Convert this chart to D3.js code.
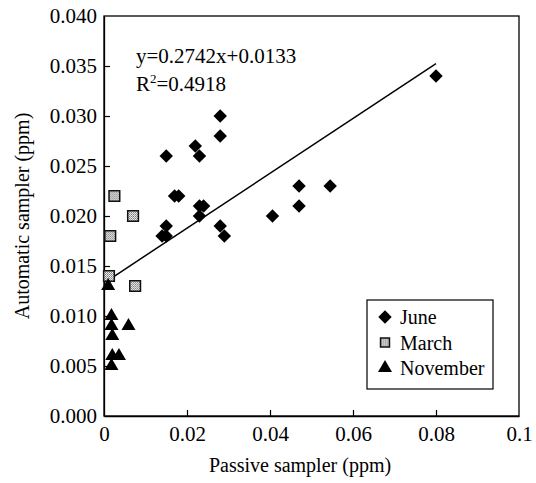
<!DOCTYPE html>
<html>
<head>
<meta charset="utf-8">
<script src="https://cdn.jsdelivr.net/npm/d3@7/dist/d3.min.js"></script>
<style>
  body { margin: 0; background: #fff; }
  text { font-family: "Liberation Serif", "Times New Roman", serif; fill: #000; }
</style>
</head>
<body>
<div id="chart"></div>
<script>
// data (passive, automatic) in ppm
var juneX = [0.080, 0.028, 0.028, 0.022, 0.015, 0.023, 0.017, 0.018, 0.023, 0.024, 0.023, 0.015, 0.014, 0.015, 0.028, 0.029, 0.0406, 0.047, 0.047, 0.0545]
var juneY = [0.034, 0.030, 0.028, 0.027, 0.026, 0.026, 0.022, 0.022, 0.021, 0.021, 0.020, 0.019, 0.018, 0.018, 0.019, 0.018, 0.020, 0.023, 0.021, 0.023]
var marchX = [0.0025, 0.007, 0.0015, 0.0012, 0.0075]
var marchY = [0.022, 0.020, 0.018, 0.014, 0.013]
var novX = [0.001, 0.0018, 0.0018, 0.0059, 0.002, 0.002, 0.0036, 0.0018]
var novY = [0.013, 0.010, 0.009, 0.009, 0.008, 0.006, 0.006, 0.005]
var slope = 0.2742, intercept = 0.0133
var xTicks = [0, 0.02, 0.04, 0.06, 0.08, 0.1]
var yTicks = [0, 0.005, 0.010, 0.015, 0.020, 0.025, 0.030, 0.035, 0.040]
var seriesNames = ["June", "March", "November"]

var W = 536, H = 483
var margin = {top: 16, right: 17, bottom: 67, left: 104}
var width = W - margin.left - margin.right,
    height = H - margin.top - margin.bottom

var svg = d3.select("#chart").append("svg")
  .attr("width", W).attr("height", H)

// stipple for the March squares
var defs = svg.append("defs")
var pat = defs.append("pattern").attr("id", "stip")
  .attr("width", 2).attr("height", 2).attr("patternUnits", "userSpaceOnUse")
pat.append("rect").attr("width", 2).attr("height", 2).attr("fill", "#eee")
pat.append("rect").attr("width", 1).attr("height", 1).attr("fill", "#777")
pat.append("rect").attr("x", 1).attr("y", 1).attr("width", 1).attr("height", 1).attr("fill", "#999")

var g = svg.append("g").attr("transform", "translate(" + margin.left + "," + margin.top + ")")

var x = d3.scaleLinear().domain([0, 0.1]).range([0, width])
var y = d3.scaleLinear().domain([0, 0.04]).range([height, 0])

// frame
g.append("rect").attr("width", width).attr("height", height)
  .attr("fill", "none").attr("stroke", "#000").attr("stroke-width", 1.3)

var xAxis = g.append("g").attr("transform", "translate(0," + height + ")")
  .call(d3.axisBottom(x).tickValues(xTicks).tickSizeInner(-6).tickSizeOuter(0).tickPadding(10)
    .tickFormat(function(d){ return d === 0 ? "0" : (d === 0.1 ? "0.1" : d3.format(".2f")(d)) }))
var yAxis = g.append("g")
  .call(d3.axisLeft(y).tickValues(yTicks).tickSizeInner(-6).tickSizeOuter(0).tickPadding(7)
    .tickFormat(d3.format(".3f")))
;[xAxis, yAxis].forEach(function(a){
  a.select(".domain").attr("stroke", "#000").attr("stroke-width", 1.3)
  a.selectAll(".tick line").attr("stroke", "#000").attr("stroke-width", 1.2)
  a.selectAll(".tick text").style("font-size", "21px").style("font-family", "Liberation Serif")
})
xAxis.selectAll(".tick").filter(function(d){ return d === 0 || d === 0.1 }).select("line").remove()
yAxis.selectAll(".tick").filter(function(d){ return d === 0 || d === 0.04 }).select("line").remove()

// regression line
var allX = juneX.concat(marchX, novX)
var x0 = d3.min(allX), x1 = d3.max(allX)
g.append("line")
  .attr("x1", x(x0)).attr("y1", y(slope * x0 + intercept))
  .attr("x2", x(x1)).attr("y2", y(slope * x1 + intercept))
  .attr("stroke", "#000").attr("stroke-width", 1.5)

var diamond = d3.symbol().type(d3.symbolSquare).size(90)
var square = d3.symbol().type(d3.symbolSquare).size(115)
var tri = d3.symbol().type(d3.symbolTriangle).size(85)

function drawPts(xs, ys, gen, rot, fill, stroke) {
  g.append("g").selectAll("path").data(xs).enter().append("path")
    .attr("d", gen)
    .attr("transform", function(d, i){ return "translate(" + x(d) + "," + y(ys[i]) + ") rotate(" + rot + ")" })
    .attr("fill", fill).attr("stroke", stroke).attr("stroke-width", 1.5)
}
drawPts(marchX, marchY, square, 0, "url(#stip)", "#111")
drawPts(novX, novY, tri, 0, "#000", "none")
drawPts(juneX, juneY, diamond, 45, "#000", "none")

// equation
g.append("text").attr("x", x(0.0077)).attr("y", y(0.0353)).style("font-size", "21px").text("y=0.2742x+0.0133")
var r2 = g.append("text").attr("x", x(0.0077)).attr("y", y(0.0325)).style("font-size", "21px")
r2.append("tspan").text("R")
r2.append("tspan").attr("dy", -8).style("font-size", "13px").text("2")
r2.append("tspan").attr("dy", 8).text("=0.4918")

// legend
var lg = svg.append("g").attr("transform", "translate(367,300)")
lg.append("rect").attr("width", 126).attr("height", 89)
  .attr("fill", "#fff").attr("stroke", "#000").attr("stroke-width", 1.2)
var legSyms = [[diamond, 45, "#000", "none"], [square, 0, "url(#stip)", "#111"], [tri, 0, "#000", "none"]]
seriesNames.forEach(function(n, i){
  var s = legSyms[i]
  var cy = 17 + i * 25.5
  lg.append("path").attr("d", i === 1 ? d3.symbol().type(d3.symbolSquare).size(80)() : s[0]())
    .attr("transform", "translate(18," + cy + ") rotate(" + s[1] + ")")
    .attr("fill", s[2]).attr("stroke", s[3]).attr("stroke-width", 1.5)
  lg.append("text").attr("x", 33).attr("y", cy + 7).style("font-size", "20px").text(n)
})

// axis titles
svg.append("text").attr("x", 300).attr("y", 472)
  .attr("text-anchor", "middle").style("font-size", "20px").text("Passive sampler (ppm)")
svg.append("text").attr("transform", "translate(29," + (margin.top + height / 2) + ") rotate(-90)")
  .attr("text-anchor", "middle").style("font-size", "20px").text("Automatic sampler (ppm)")
</script>
</body>
</html>
